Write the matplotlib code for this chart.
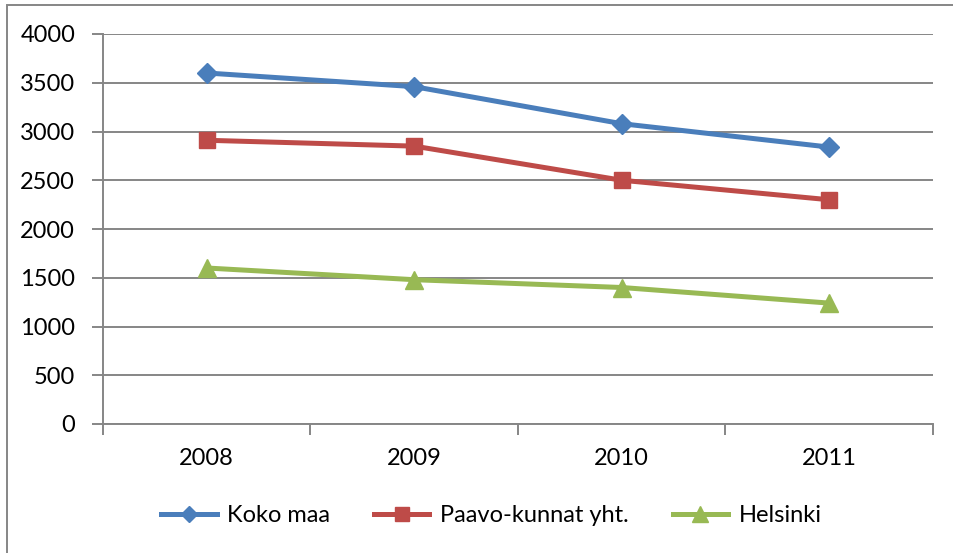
import matplotlib.pyplot as plt
import numpy as np
from matplotlib.patches import Rectangle

years = ["2008", "2009", "2010", "2011"]
koko_maa = [3600, 3460, 3080, 2840]
paavo = [2910, 2850, 2500, 2300]
helsinki = [1600, 1480, 1400, 1240]

plt.rcParams['font.family'] = ['Lato', 'DejaVu Sans']

fig = plt.figure(figsize=(9.54, 5.53), dpi=100)
ax = fig.add_axes([103 / 954, 1 - 424 / 553, 830 / 954, 390 / 553])

x = np.arange(len(years))
ax.plot(x, koko_maa, color='#4A7EBB', lw=3.6, marker='D', ms=10, label='Koko maa')
ax.plot(x, paavo, color='#BE4B48', lw=3.6, marker='s', ms=12, label='Paavo-kunnat yht.')
ax.plot(x, helsinki, color='#98B954', lw=3.6, marker='^', ms=13, label='Helsinki')

ax.set_xlim(-0.5, 3.5)
ax.set_ylim(0, 4000)
ax.set_yticks(range(0, 4001, 500))
ax.set_xticks(x)
ax.set_xticklabels(years)
ax.set_xticks(np.arange(-0.5, 3.6, 1), minor=True)
ax.grid(axis='y', color='#868686', lw=1.4)
ax.set_axisbelow(True)
for s in ['top', 'right']:
    ax.spines[s].set_visible(False)
for s in ['left', 'bottom']:
    ax.spines[s].set_color('#868686')
    ax.spines[s].set_linewidth(1.4)
ax.tick_params(axis='y', length=8, color='#868686', width=1.4, labelsize=17, pad=12)
ax.tick_params(axis='x', which='major', length=0, labelsize=17, pad=17)
ax.tick_params(axis='x', which='minor', length=8, color='#868686', width=1.4)

ax.legend(loc='center', bbox_to_anchor=(0.468, -0.235), ncol=3, frameon=False,
          fontsize=17, handlelength=2.35, columnspacing=1.85, handletextpad=0.45,
          markerscale=0.85)

fig.patches.append(Rectangle((7 / 954, -0.1), 1.2, 1 - 5 / 553 + 0.1,
                             transform=fig.transFigure, fill=False,
                             edgecolor='#868686', lw=1.4))

fig.savefig('out.png', dpi=100)
